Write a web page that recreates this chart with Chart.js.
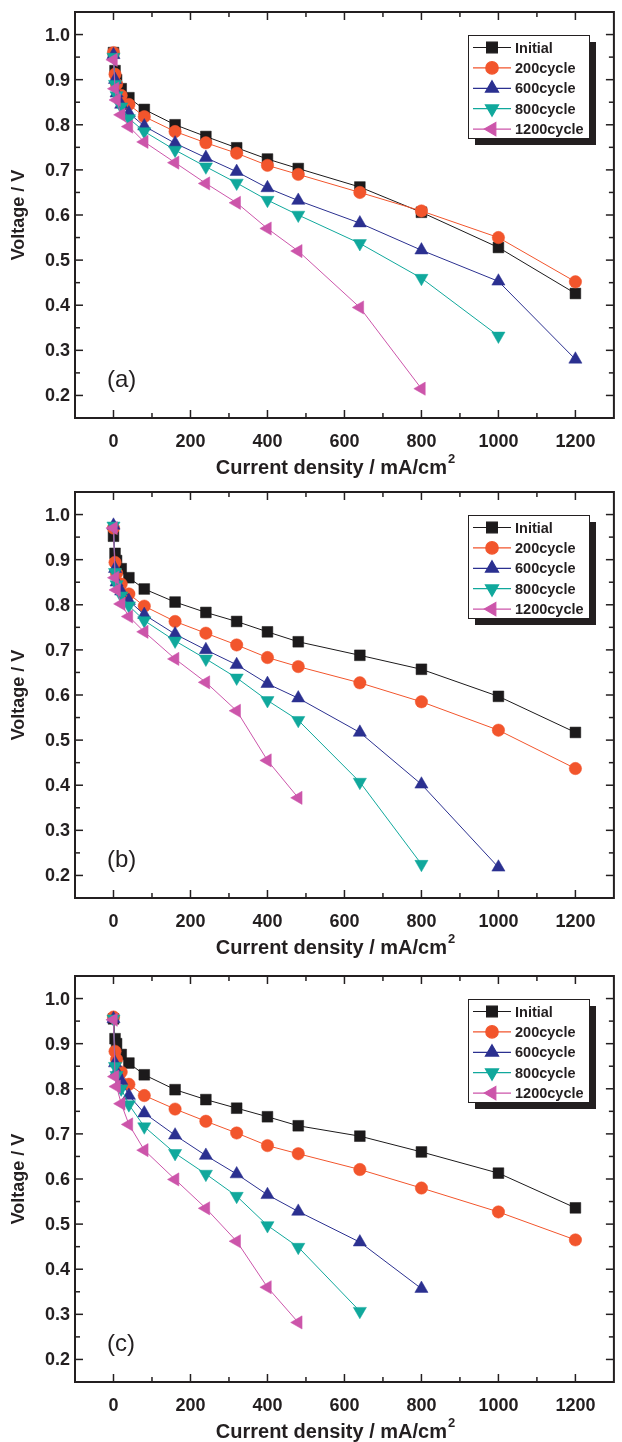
<!DOCTYPE html>
<html>
<head>
<meta charset="utf-8">
<title>Polarization curves</title>
<script src="https://cdn.jsdelivr.net/npm/chart.js@4.4.0/dist/chart.umd.min.js"></script>
<style>
  body { margin: 0; background: #fff; }
  .panel { position: absolute; left: 0; width: 622px; height: 480px; }
</style>
</head>
<body>
<div class="panel" style="top:0px"><canvas id="chartA" width="622" height="480"></canvas></div>
<div class="panel" style="top:480px"><canvas id="chartB" width="622" height="480"></canvas></div>
<div class="panel" style="top:964px"><canvas id="chartC" width="622" height="480"></canvas></div>
<script>
// Current density steps (mA/cm2) shared by every curve
const currentDensity = [0, 4, 8, 20, 40, 80, 160, 240, 320, 400, 480, 640, 800, 1000, 1200];

const seriesNames = ["Initial", "200cycle", "600cycle", "800cycle", "1200cycle"];
const seriesColors = ["#1c1a1b", "#f2552c", "#2b3090", "#10a89c", "#cc55aa"];
const markerStyles = ["rect", "circle", "triangle", "triangle", "triangle"];
const markerRotations = [0, 0, 0, 180, 270];
const markerRadii = [7.6, 6.2, 7.6, 7.6, 7.6];

// Axis ticks
const xTicks = [0, 200, 400, 600, 800, 1000, 1200];
const xMinorTicks = [100, 300, 500, 700, 900, 1100];
const yTicks = [0.2, 0.3, 0.4, 0.5, 0.6, 0.7, 0.8, 0.9, 1.0];
const yMinorTicks = [0.25, 0.35, 0.45, 0.55, 0.65, 0.75, 0.85, 0.95];

// Panel (a) voltages
const voltageA_initial = [0.96, 0.92, 0.90, 0.88, 0.86, 0.834, 0.80, 0.774, 0.749, 0.724, 0.703, 0.662, 0.606, 0.528, 0.426];
const voltageA_200 = [0.96, 0.912, 0.89, 0.865, 0.845, 0.818, 0.785, 0.76, 0.737, 0.71, 0.69, 0.65, 0.609, 0.55, 0.452];
const voltageA_600 = [0.955, 0.90, 0.87, 0.845, 0.826, 0.797, 0.759, 0.727, 0.696, 0.66, 0.632, 0.582, 0.522, 0.453, 0.28];
const voltageA_800 = [0.95, 0.89, 0.865, 0.84, 0.814, 0.785, 0.744, 0.707, 0.671, 0.633, 0.60, 0.537, 0.46, 0.332];
const voltageA_1200 = [0.944, 0.88, 0.855, 0.822, 0.796, 0.762, 0.716, 0.67, 0.627, 0.57, 0.52, 0.395, 0.215];

// Panel (b) voltages
const voltageB_initial = [0.952, 0.914, 0.898, 0.88, 0.86, 0.835, 0.806, 0.783, 0.763, 0.74, 0.718, 0.688, 0.657, 0.597, 0.517];
const voltageB_200 = [0.97, 0.894, 0.87, 0.846, 0.824, 0.797, 0.763, 0.737, 0.711, 0.683, 0.663, 0.627, 0.585, 0.522, 0.437];
const voltageB_600 = [0.976, 0.88, 0.85, 0.83, 0.809, 0.778, 0.735, 0.70, 0.667, 0.625, 0.593, 0.517, 0.402, 0.218];
const voltageB_800 = [0.975, 0.872, 0.845, 0.82, 0.798, 0.765, 0.72, 0.68, 0.638, 0.588, 0.544, 0.407, 0.225];
const voltageB_1200 = [0.97, 0.86, 0.833, 0.802, 0.774, 0.74, 0.68, 0.628, 0.565, 0.455, 0.372];

// Panel (c) voltages
const voltageC_initial = [0.955, 0.911, 0.90, 0.876, 0.857, 0.831, 0.798, 0.776, 0.757, 0.738, 0.718, 0.695, 0.66, 0.613, 0.536];
const voltageC_200 = [0.959, 0.883, 0.865, 0.837, 0.81, 0.785, 0.755, 0.728, 0.702, 0.674, 0.656, 0.621, 0.58, 0.527, 0.465];
const voltageC_600 = [0.955, 0.857, 0.838, 0.818, 0.785, 0.746, 0.697, 0.652, 0.611, 0.565, 0.528, 0.46, 0.357];
const voltageC_800 = [0.955, 0.85, 0.83, 0.80, 0.765, 0.716, 0.657, 0.611, 0.562, 0.497, 0.449, 0.307];
const voltageC_1200 = [0.953, 0.827, 0.805, 0.767, 0.721, 0.664, 0.599, 0.535, 0.462, 0.36, 0.282];

const frameColor = "#231f20";
const boldFont = "bold 18px 'Liberation Sans', Arial, sans-serif";

function makeDataset(i, values) {
  return {
    label: seriesNames[i],
    data: values.map((v, k) => ({ x: currentDensity[k], y: v })),
    borderColor: seriesColors[i],
    backgroundColor: seriesColors[i],
    borderWidth: 1,
    pointStyle: markerStyles[i],
    rotation: markerRotations[i],
    pointRadius: markerRadii[i],
    pointBorderWidth: 0.5,
    order: 5 - i, // later curves sit on top
  };
}

function drawTick(ctx, x1, y1, x2, y2) {
  ctx.beginPath();
  ctx.moveTo(x1, y1);
  ctx.lineTo(x2, y2);
  ctx.stroke();
}

// frame, inward ticks, tick labels, axis titles, legend and panel letter
const decorPlugin = {
  id: "decor",
  afterDatasetsDraw(chart, args, opts) {
    const { ctx, chartArea: a } = chart;
    const x = chart.scales.x;
    const y = chart.scales.y;
    ctx.save();
    ctx.strokeStyle = frameColor;
    ctx.lineWidth = 1.5;

    xTicks.forEach((v) => {
      const px = x.getPixelForValue(v);
      drawTick(ctx, px, a.bottom, px, a.bottom - 8);
      drawTick(ctx, px, a.top, px, a.top + 8);
    });
    xMinorTicks.forEach((v) => {
      const px = x.getPixelForValue(v);
      drawTick(ctx, px, a.bottom, px, a.bottom - 5);
      drawTick(ctx, px, a.top, px, a.top + 5);
    });
    yTicks.forEach((v) => {
      const py = y.getPixelForValue(v);
      drawTick(ctx, a.left, py, a.left + 8, py);
      drawTick(ctx, a.right, py, a.right - 8, py);
    });
    yMinorTicks.forEach((v) => {
      const py = y.getPixelForValue(v);
      drawTick(ctx, a.left, py, a.left + 5, py);
      drawTick(ctx, a.right, py, a.right - 5, py);
    });

    ctx.lineWidth = 2;
    ctx.strokeRect(a.left, a.top, a.right - a.left, a.bottom - a.top);

    // tick labels
    ctx.fillStyle = frameColor;
    ctx.font = boldFont;
    ctx.textAlign = "center";
    ctx.textBaseline = "middle";
    xTicks.forEach((v) => {
      ctx.fillText(String(v), x.getPixelForValue(v), a.bottom + 24);
    });
    ctx.textAlign = "right";
    yTicks.forEach((v) => {
      ctx.fillText(v.toFixed(1), a.left - 5, y.getPixelForValue(v) + 1);
    });

    // x axis title with superscript
    ctx.font = "bold 20px 'Liberation Sans', Arial, sans-serif";
    const main = "Current density / mA/cm";
    const mainW = ctx.measureText(main).width;
    ctx.font = "bold 13px 'Liberation Sans', Arial, sans-serif";
    const supW = ctx.measureText("2").width;
    const tx = 335 - (mainW + supW) / 2;
    const ty = a.bottom + 50;
    ctx.textAlign = "left";
    ctx.font = "bold 20px 'Liberation Sans', Arial, sans-serif";
    ctx.fillText(main, tx, ty);
    ctx.font = "bold 13px 'Liberation Sans', Arial, sans-serif";
    ctx.fillText("2", tx + mainW + 1, ty - 9);

    // y axis title
    ctx.save();
    ctx.translate(19, (a.top + a.bottom) / 2);
    ctx.rotate(-Math.PI / 2);
    ctx.textAlign = "center";
    ctx.font = "bold 18px 'Liberation Sans', Arial, sans-serif";
    ctx.fillText("Voltage / V", 0, 0);
    ctx.restore();

    // panel letter
    ctx.font = "24px 'Liberation Sans', Arial, sans-serif";
    ctx.textAlign = "left";
    ctx.fillText(opts.letter, 107, a.bottom - 38);

    // legend with drop shadow
    const lx = 468, ly = a.top + 23, lw = 121, lh = 103;
    ctx.fillStyle = frameColor;
    ctx.fillRect(lx + 7, ly + 7, lw, lh);
    ctx.fillStyle = "#fff";
    ctx.fillRect(lx, ly, lw, lh);
    ctx.lineWidth = 1;
    ctx.strokeStyle = frameColor;
    ctx.strokeRect(lx + 0.5, ly + 0.5, lw, lh);

    chart.data.datasets.forEach((ds, i) => {
      const rowY = ly + 12.5 + i * 20.4;
      ctx.strokeStyle = ds.borderColor;
      ctx.fillStyle = ds.backgroundColor;
      ctx.lineWidth = 1.2;
      drawTick(ctx, lx + 5, rowY, lx + 43, rowY);
      Chart.helpers.drawPoint(ctx, {
        pointStyle: ds.pointStyle,
        rotation: ds.rotation,
        radius: ds.pointRadius,
        borderWidth: 0.5,
      }, lx + 24, rowY);
      ctx.fillStyle = frameColor;
      ctx.font = "bold 14.5px 'Liberation Sans', Arial, sans-serif";
      ctx.textAlign = "left";
      ctx.textBaseline = "middle";
      ctx.fillText(ds.label, lx + 47, rowY + 1);
    });
    ctx.restore();
  },
};

function buildPanel(canvasId, letter, curves) {
  const ctx = document.getElementById(canvasId).getContext("2d");
  return new Chart(ctx, {
    type: "line",
    data: { datasets: curves.map((values, i) => makeDataset(i, values)) },
    options: {
      responsive: false,
      animation: false,
      events: [],
      layout: { padding: { left: 75, right: 1, top: 12, bottom: 62 } },
      scales: {
        x: { type: "linear", min: -100, max: 1300, display: false },
        y: { type: "linear", min: 0.15, max: 1.05, display: false },
      },
      plugins: {
        legend: { display: false },
        tooltip: { enabled: false },
        decor: { letter: letter },
      },
    },
    plugins: [decorPlugin],
  });
}

buildPanel("chartA", "(a)", [voltageA_initial, voltageA_200, voltageA_600, voltageA_800, voltageA_1200]);
buildPanel("chartB", "(b)", [voltageB_initial, voltageB_200, voltageB_600, voltageB_800, voltageB_1200]);
buildPanel("chartC", "(c)", [voltageC_initial, voltageC_200, voltageC_600, voltageC_800, voltageC_1200]);
</script>
</body>
</html>
